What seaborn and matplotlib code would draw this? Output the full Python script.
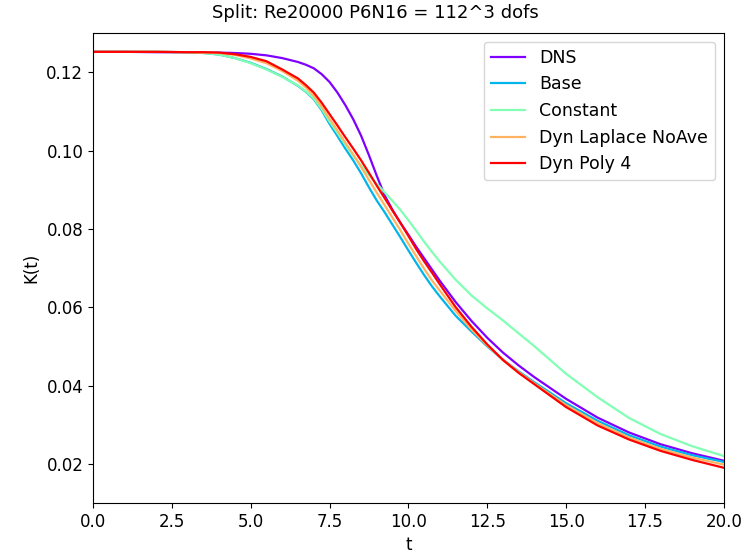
import matplotlib
matplotlib.use("Agg")
import matplotlib.pyplot as plt
import seaborn as sns
import numpy as np

t = [0, 1, 2, 3, 3.5, 4, 4.5, 5, 5.5, 6, 6.5, 6.75, 7, 7.25, 7.5, 7.75, 8, 8.25, 8.5, 8.75,
     9, 9.25, 9.5, 9.75, 10, 10.25, 10.5, 10.75, 11, 11.5, 12, 12.5, 13, 13.5, 14,
     15, 16, 17, 18, 19, 20]

dns = [0.1252, 0.1252, 0.1251, 0.1251, 0.1250, 0.1250, 0.1249, 0.1247, 0.1243, 0.1236,
       0.1226, 0.1219, 0.1210, 0.1195, 0.1175, 0.1148, 0.1116, 0.1080, 0.1038, 0.0988,
       0.0935, 0.0885, 0.0848, 0.0815, 0.0785, 0.0754, 0.0725, 0.0696, 0.0667, 0.0613,
       0.0565, 0.0522, 0.0484, 0.0451, 0.0421, 0.0366, 0.0318, 0.0280, 0.0250, 0.0227, 0.0208]
base = [0.1252, 0.1252, 0.1252, 0.1251, 0.1249, 0.1245, 0.1236, 0.1224, 0.1208, 0.1189,
        0.1165, 0.1150, 0.1131, 0.1103, 0.1068, 0.1037, 0.1005, 0.0975, 0.0942, 0.0906,
        0.0872, 0.0842, 0.0810, 0.0778, 0.0745, 0.0713, 0.0682, 0.0653, 0.0627, 0.0578,
        0.0538, 0.0500, 0.0466, 0.0436, 0.0408, 0.0355, 0.0310, 0.0273, 0.0244, 0.0222, 0.0205]
constant = [0.1252, 0.1252, 0.1252, 0.1251, 0.1249, 0.1245, 0.1236, 0.1223, 0.1207, 0.1188,
            0.1166, 0.1151, 0.1133, 0.1106, 0.1074, 0.1045, 0.1015, 0.0987, 0.0962, 0.0937,
            0.0915, 0.0893, 0.0871, 0.0848, 0.0822, 0.0795, 0.0767, 0.0741, 0.0716, 0.0670,
            0.0630, 0.0597, 0.0566, 0.0533, 0.0500, 0.0430, 0.0370, 0.0317, 0.0276, 0.0245, 0.0220]
dyn_laplace = [0.1252, 0.1252, 0.1252, 0.1251, 0.1250, 0.1249, 0.1244, 0.1235, 0.1223, 0.1203,
               0.1178, 0.1161, 0.1140, 0.1112, 0.1081, 0.1051, 0.1020, 0.0990, 0.0958, 0.0925,
               0.0892, 0.0860, 0.0828, 0.0796, 0.0762, 0.0730, 0.0698, 0.0668, 0.0642, 0.0590,
               0.0543, 0.0502, 0.0466, 0.0434, 0.0405, 0.0350, 0.0304, 0.0267, 0.0238, 0.0216, 0.0198]
dyn_poly4 = [0.1252, 0.1252, 0.1252, 0.1251, 0.1251, 0.1250, 0.1246, 0.1239, 0.1228, 0.1207,
             0.1184, 0.1167, 0.1148, 0.1122, 0.1093, 0.1064, 0.1034, 0.1005, 0.0975, 0.0943,
             0.0910, 0.0878, 0.0846, 0.0815, 0.0782, 0.0748, 0.0717, 0.0688, 0.0658, 0.0600,
             0.0550, 0.0505, 0.0465, 0.0432, 0.0403, 0.0345, 0.0298, 0.0262, 0.0233, 0.0210, 0.0190]

labels = ["DNS", "Base", "Constant", "Dyn Laplace NoAve", "Dyn Poly 4"]
series = [dns, base, constant, dyn_laplace, dyn_poly4]

colors = plt.cm.rainbow(np.linspace(0, 1, len(labels)))

fig = plt.figure(figsize=(7.5, 5.56), dpi=100)
ax = fig.add_axes([0.124, 0.0953, 0.841, 0.8453])

for lab, vals, c in zip(labels, series, colors):
    sns.lineplot(x=t, y=vals, color=c, label=lab, ax=ax, linewidth=1.6)

ax.set_xlim(0, 20)
ax.set_ylim(0.01, 0.13)
ax.set_xticks([0, 2.5, 5, 7.5, 10, 12.5, 15, 17.5, 20])
ax.set_yticks([0.02, 0.04, 0.06, 0.08, 0.10, 0.12])
ax.tick_params(labelsize=12)
ax.set_xlabel("t", fontsize=12)
ax.set_ylabel("K(t)", fontsize=12)
fig.suptitle("Split: Re20000 P6N16 = 112^3 dofs", fontsize=13, x=0.5, y=0.993)
ax.legend(loc="upper right", fontsize=12.5)

fig.savefig("out.png", dpi=100)
